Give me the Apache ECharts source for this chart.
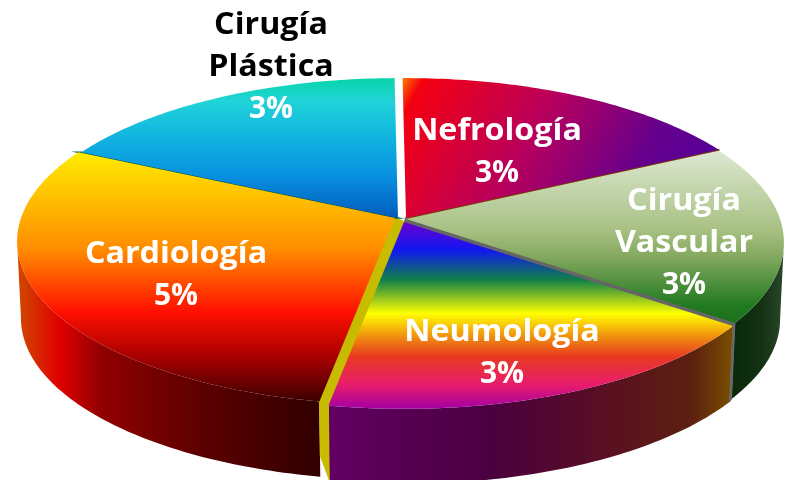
<!DOCTYPE html>
<html>
<head>
<meta charset="utf-8">
<style>
  html, body { margin: 0; padding: 0; background: #fff; }
  #main { width: 797px; height: 480px; filter: blur(0.4px); }
</style>
<script src="https://cdn.jsdelivr.net/npm/echarts@6/dist/echarts.min.js"></script>
</head>
<body>
<div id="main"></div>
<script>
// data, clockwise from the top
const categories = ["Nefrología", "Cirugía Vascular", "Neumología", "Cardiología", "Cirugía Plástica"];
const values = [3, 3, 3, 5, 3];

// fill of each top face (vertical unless noted)
const topStops = [
  [[0, "#ff7a00"], [0.06, "#f40010"], [0.45, "#b8005c"], [0.8, "#66008c"], [1, "#55009a"]],
  [[0, "#dde7d2"], [0.45, "#a9c285"], [0.6, "#88ab62"], [0.9, "#217a20"], [1, "#1c701c"]],
  [[0, "#6a00d0"], [0.15, "#1018f0"], [0.31, "#108048"], [0.49, "#ffff00"], [0.62, "#f08a10"], [0.72, "#e83a20"], [0.87, "#e81c6c"], [1, "#a400a4"]],
  [[0, "#ffec00"], [0.18, "#ffc000"], [0.39, "#ff8c00"], [0.64, "#ff1000"], [0.82, "#a80000"], [1, "#3c0000"]],
  [[0, "#08d4a8"], [0.16, "#20d4d8"], [0.45, "#10b0e0"], [0.7, "#0890e0"], [1, "#005cbc"]],
];
// fill of each outer wall, left to right
const wallStops = [
  null,
  [[0, "#082808"], [0.6, "#143214"], [1, "#2c482c"]],
  [[0, "#620062"], [0.4, "#4a0040"], [0.7, "#5a1020"], [0.9, "#5c2010"], [1, "#7a5000"]],
  [[0, "#d04a00"], [0.14, "#e00000"], [0.28, "#900000"], [0.61, "#5c0000"], [1, "#300000"]],
  null,
];
// seam colour between a slice and the next one
const seamColors = ["#7a3a00", "#666666", "#c8bc00", "#0a5a40", null];
// explode offset of each slice
const offsets = [[3, 0], [3, 1], [1, 4], [-8, 0], [-5, 0]];

// label anchor (centre of first line)
const labelAnchors = [[497, 131], [684, 201], [502, 332], [176, 254], [271, 25]];
const nameColors = ["#fff", "#fff", "#fff", "#fff", "#000"];
const lineStep = 42;
const nameStretch = 1.075;

const cx = 403, cy = 218, R = 374, A = 160, C = 0.1437;
const depth = 77, floorScale = 0.99, startAngle = -0.6;
const total = values.reduce((a, b) => a + b, 0);

// circle angle (deg, 0 = top, clockwise) -> tilted disc, r is 0..1
function project(deg, r, i) {
  let t = (deg * Math.PI) / 180;
  let u = Math.sin(t) * r, v = Math.cos(t) * r;
  let w = 1 + C * v;
  return [cx + (R * u) / w + offsets[i][0], cy - (A * v) / w + offsets[i][1]];
}
function floor(p) {
  return [cx + (p[0] - cx) * floorScale, cy + (p[1] - cy) * floorScale + depth];
}
function arc(from, to, i) {
  let pts = [];
  for (let d = from; d < to; d += 1) pts.push(project(d, 1, i));
  pts.push(project(to, 1, i));
  return pts;
}
function sliceRange(i) {
  let before = values.slice(0, i).reduce((a, b) => a + b, 0);
  return [startAngle + (before / total) * 360, startAngle + ((before + values[i]) / total) * 360];
}
function gradient(stops, horizontal, i) {
  let g = { type: "linear", x: 0, y: 0, x2: horizontal ? 1 : 0, y2: horizontal ? 0 : 1 };
  // nefrología runs diagonally
  if (!horizontal && i === 0) { g.x2 = 0.85; g.y2 = 1.1; }
  g.colorStops = stops.map((s) => ({ offset: s[0], color: s[1] }));
  return g;
}

function renderWall(params) {
  let i = params.dataIndex;
  if (!wallStops[i]) return { type: "group" };
  let r = sliceRange(i);
  // rim is only visible between the two widest points of the disc
  let top = arc(Math.max(r[0], 98), Math.min(r[1], 262), i);
  let points = top.concat(top.map(floor).reverse());
  return { type: "polygon", shape: { points: points }, style: { fill: gradient(wallStops[i], true, i) } };
}

function renderSeam(params) {
  let i = params.dataIndex;
  if (!seamColors[i]) return { type: "group" };
  let next = (i + 1) % values.length;
  let angle = sliceRange(i)[1];
  let a0 = project(angle, 0, i), a1 = project(angle, 1, i);
  let b0 = project(angle, 0, next), b1 = project(angle, 1, next);
  let children = [{
    type: "polygon",
    shape: { points: [a0, a1, b1, b0] },
    style: { fill: seamColors[i], stroke: seamColors[i], lineWidth: 1.5 },
  }];
  // seam going down the wall, only for the front ones
  if (angle > 90 && angle < 270) {
    let a2 = floor(a1), b2 = floor(b1);
    let mid = [b2[0], b1[1] + (b2[1] - b1[1]) * 0.72];
    children.push({
      type: "polygon",
      shape: { points: angle > 180 ? [b1, a1, [a2[0], a2[1] - 1], mid] : [a1, b1, b2, a2] },
      style: { fill: seamColors[i], stroke: seamColors[i], lineWidth: 1 },
    });
  }
  return { type: "group", children: children };
}

function renderTop(params, api) {
  let i = params.dataIndex;
  let r = sliceRange(i);
  let points = [project(r[0], 0, i)].concat(arc(r[0], r[1], i));
  let children = [{ type: "polygon", shape: { points: points }, style: { fill: gradient(topStops[i], false, i) } }];

  let lines = categories[i].split(" ");
  let a = labelAnchors[i];
  lines.forEach((t, n) => {
    children.push(labelText(t, a[0], a[1] + n * lineStep, nameColors[i], nameStretch));
  });
  children.push(labelText(api.value(0) + "%", a[0], a[1] + lines.length * lineStep, "#fff", 1));
  return { type: "group", children: children };
}

function labelText(text, x, y, color, stretch) {
  return {
    type: "text",
    z2: 10,
    x: x,
    y: y,
    scaleX: stretch,
    style: {
      text: text, x: 0, y: 0,
      align: "center", verticalAlign: "middle",
      font: 'bold 30px "Open Sans"',
      fill: color,
    },
  };
}

let myChart = echarts.init(document.getElementById("main"), null, { renderer: "canvas" });
let option = {
  animation: false,
  backgroundColor: "#ffffff",
  series: [
    { type: "custom", coordinateSystem: "none", silent: true, z: 1, renderItem: renderWall, data: values },
    { type: "custom", coordinateSystem: "none", silent: true, z: 2, renderItem: renderSeam, data: values },
    { type: "custom", coordinateSystem: "none", silent: true, z: 3, renderItem: renderTop, data: values },
  ],
};
myChart.setOption(option);
</script>
</body>
</html>
